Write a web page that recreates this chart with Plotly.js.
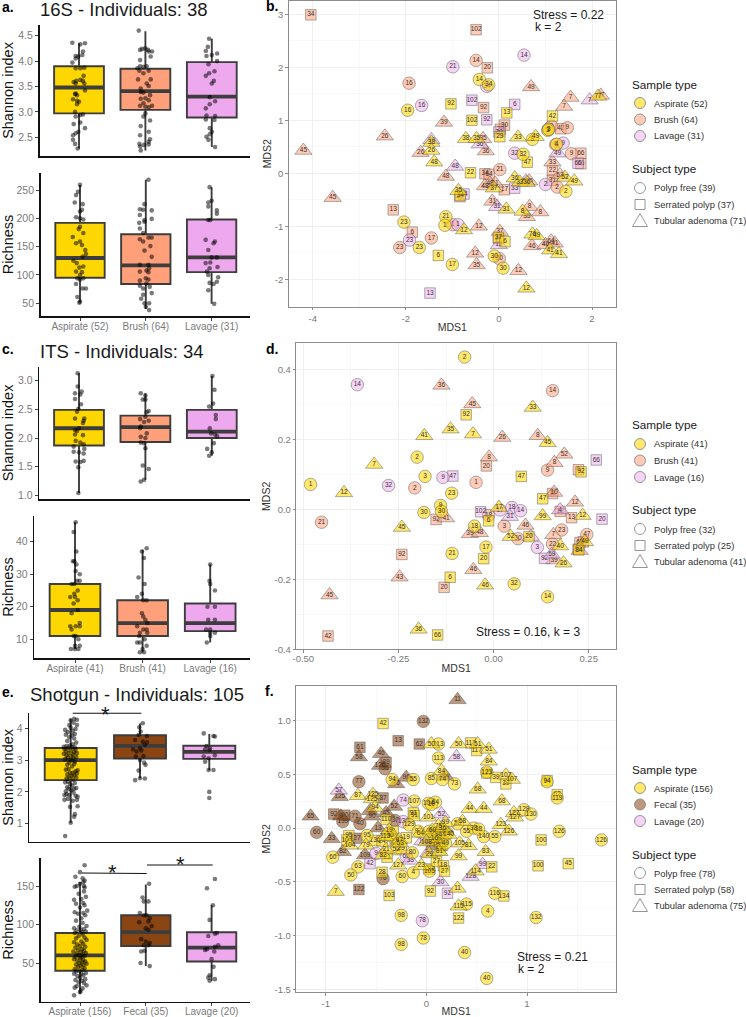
<!DOCTYPE html>
<html><head><meta charset="utf-8">
<script src="https://cdn.plot.ly/plotly-3.0.1.min.js"></script>
<style>html,body{margin:0;padding:0;background:#fff}</style></head>
<body><div id="chart"></div>
<script>
// ---------- box statistics ----------
const cats16S=["Aspirate (52)","Brush (64)","Lavage (31)"];
const catsITS=["Aspirate (41)","Brush (41)","Lavage (16)"];
const catsShot=["Aspirate (156)","Fecal (35)","Lavage (20)"];
const a1Q1=[2.97,3.04,2.89],a1Med=[3.48,3.41,3.30],a1Q3=[3.90,3.85,3.98],a1Lo=[2.28,2.24,2.31],a1Hi=[4.35,4.59,4.44];
const a2Q1=[95,84,105],a2Med=[130,117,131],a2Q3=[192,172,198],a2Lo=[52,40,49],a2Hi=[259,268,255];
const c1Q1=[1.87,1.93,2.0],c1Med=[2.17,2.19,2.11],c1Q3=[2.49,2.39,2.49],c1Lo=[1.04,1.27,1.69],c1Hi=[3.13,2.78,3.08];
const c2Q1=[11,11,12.5],c2Med=[19,15,15],c2Q3=[27,22,21],c2Lo=[7,6,9],c2Hi=[46,37.5,33];
const e1Q1=[2.37,3.05,3.04],e1Med=[3.0,3.45,3.26],e1Q3=[3.38,3.78,3.45],e1Lo=[1.03,2.43,2.68],e1Hi=[4.3,4.15,3.82];
const e2Q1=[40,72,52],e2Med=[60,90,70],e2Q3=[89,112,90],e2Lo=[10,46,27],e2Hi=[155,152,125];
// ---------- jittered sample points (x = category index + jitter) ----------
const a1X=[-.10,.02,.09,.06,.05,-.05,-.01,-.05,-.10,-.05,.02,.08,.07,-.04,-.08,.02,.06,-.05,.08,.09,-.05,-.06,-.03,-.09,-.03,0,-.03,-.06,-.05,.02,.06,-.08,.02,.09,-.01,-.05,-.09,-.09,-.06,-.02,
.90,.95,1,1.04,.92,1.05,1.10,1.08,.92,.92,.88,.97,1.02,.91,1.05,.97,.89,1.08,1.02,.93,1.05,.93,.97,1.07,.93,1,1.05,.97,.92,1,1.10,1.05,1,.97,1.07,.93,1.05,.92,1.07,1.05,.91,.98,1.05,.92,.93,
1.96,1.94,1.91,2.08,2,1.92,2.08,1.95,2.04,1.96,1.91,2.03,2,1.97,2.05,1.97,1.91,1.92,2.05,1.91,2.04,1.97,2,1.97,1.92,1.95,2.05];
const a1Y=[4.36,4.33,4.35,4.19,4.12,4.10,4.09,4.05,3.97,3.86,3.86,3.87,3.71,3.61,3.59,3.63,3.61,3.56,3.56,3.42,3.36,3.35,3.33,3.25,3.22,3.20,3.15,3.0,2.91,2.94,2.95,2.76,2.79,2.68,2.61,2.58,2.54,2.45,2.37,2.28,
4.60,4.24,4.25,4.22,4.22,4.19,4.19,4.09,4.02,3.90,3.86,3.89,3.90,3.81,3.81,3.76,3.64,3.64,3.56,3.46,3.51,3.39,3.38,3.33,3.26,3.27,3.23,3.17,3.12,3.10,3.12,3.09,2.97,2.91,2.83,2.72,2.61,2.54,2.46,2.41,2.37,2.35,2.36,2.32,2.24,
4.44,4.28,4.2,4.15,4.12,4.1,4.0,3.94,3.8,3.76,3.71,3.61,3.56,3.29,3.21,3.15,3.07,2.93,2.92,2.85,2.84,2.68,2.61,2.56,2.51,2.45,2.31];
const a2X=[0,-.03,-.06,-.08,.04,0,.03,-.06,0,.05,0,-.02,.05,-.11,0,.03,-.06,.08,.09,.04,-.10,-.05,.05,-.01,-.06,.03,0,-.04,.05,0,-.06,.04,.09,-.04,0,-.01,
1.04,.98,.91,.96,1.09,.91,.98,1.09,.90,.98,.91,.96,.91,.96,1.04,1.09,1.07,.98,1.09,.91,1.04,1.05,1.01,.91,1.04,1,1.04,.91,1.01,.91,1.06,.96,1.09,.96,.93,.98,1.05,1,1.05,
1.97,2,1.95,1.95,2.08,2.08,1.95,1.98,1.91,2.05,2.03,1.95,2,2.08,1.98,1.91,2.09,1.97,1.93,1.95,2.10,2.08,1.97,2.03,1.95,2.04];
const a2Y=[259,247,241,228,225,212,215,202,200,198,185,181,174,167,159,153,156,144,137,132,125,121,115,113,106,105,100,94,94,92,84,76,76,61,53,51,
268,225,216,215,214,206,197,199,192,194,182,174,163,159,166,166,151,143,132,118,118,112,108,106,105,94,92,90,85,81,79,76,68,65,58,50,50,44,38,
255,231,228,221,214,208,197,197,162,159,156,144,131,131,122,121,114,112,106,100,96,88,86,84,73,49];
const c1X=[-.02,-.02,.04,-.06,.02,-.06,.03,-.01,-.03,-.06,.08,.07,.06,0,-.06,-.03,-.06,.06,-.05,.02,.07,-.08,.08,-.08,0,.07,-.05,.07,.02,-.01,-.01,
.93,1,.96,1,1.05,1.02,1,.92,1.05,.98,.93,.92,1.02,.93,1,.93,.98,1,.96,1.05,.98,.93,
2.01,2.04,2.02,1.96,2.06,2.06,1.97,1.99,2.05,2.08,2.03,1.93,2,1.96];
const c1Y=[3.13,2.9,2.81,2.78,2.76,2.68,2.59,2.51,2.46,2.34,2.34,2.3,2.26,2.17,2.14,2.12,2.06,2.05,1.95,1.92,1.89,1.85,1.81,1.76,1.75,1.73,1.59,1.6,1.58,1.49,1.04,
2.78,2.74,2.67,2.67,2.47,2.45,2.37,2.33,2.3,2.28,2.2,2.17,2.08,2.02,2.0,1.92,1.91,1.82,1.52,1.46,1.27,1.24,
3.08,2.84,2.6,2.55,2.4,2.33,2.17,2.08,2.06,2.03,1.91,1.81,1.75,1.69];
const c2X=[.01,-.02,.02,-.03,-.01,.02,.01,.07,.03,.07,-.05,-.01,.04,-.07,-.01,0,.04,-.02,.04,-.05,-.07,-.05,.01,.07,.07,-.02,.01,.05,0,.07,-.06,0,.05,
1.06,.99,1.02,.94,1.03,.92,.99,1.01,1.06,.99,1.01,1.04,1.07,.92,1.01,1.06,.96,1.07,.95,1.03,.96,.92,1.06,1,.96,1.02,
2,1.99,2,2.07,1.96,2.07,1.97,2.07,1.94,2,2,2.07,2,1.95];
const c2Y=[46,43,37,34,34,33,31,30,28,28,27,27,25,23,24,23,22,21,19,18,14,13,14,15,14,11,11,10,8,8,7,7,7,
38,37,35,29,27,23,24,22,22,18,17,16,15,14,13,13,12,12,11,10,9,9,8,7,6,6,
33,28,27,25,20,20,16,16,13,13,12,12,11,9];
const e1X=[-.08,0,.06,.05,.10,-.01,.09,-.09,-.04,.03,-.09,-.06,.07,.1,-.02,.04,-.07,.01,.05,-.03,.08,-.05,.02,-.01,.06,-.08,-.04,.03,-.06,.08,-.02,.01,.05,-.05,.09,-.01,.03,.07,.1,-.07,-.03,.02,-.05,.05,-.02,.06,0,-.08,.04,-.04,.08,.01,-.06,.03,-.1,-.03,.09,.05,-.07,0,.07,-.09,-.04,.02,-.1,.06,-.06,-.01,.03,.08,-.05,.05,-.02,.02,-.07,.06,-.04,.03,-.08,.07,0,-.02,.09,.04,0,.05,.09,
1.04,.99,1.01,.98,1.1,.93,1.04,1.1,1.07,.9,1,.95,1.02,.94,1.05,1,1.06,1.08,.98,1,.93,1.07,
1.92,2.06,2.08,1.96,2.01,1.94,2,1.92,2.08,1.99,1.94,1.99,2.06,2,2];
const e1Y=[.61,1.03,1.3,1.22,1.55,1.53,1.75,1.75,1.78,1.72,1.9,1.93,1.88,1.85,1.9,1.98,2.02,2.05,2.1,2.1,2.12,2.15,2.2,2.25,2.28,2.3,2.32,2.38,2.42,2.45,2.45,2.5,2.52,2.55,2.58,2.6,2.6,2.65,2.68,2.7,2.72,2.8,2.85,2.88,2.92,2.95,3.0,3.03,3.05,3.08,3.1,3.12,3.15,3.18,3.2,3.22,3.22,3.25,3.28,3.3,3.33,3.35,3.38,3.4,3.42,3.4,3.44,3.46,3.5,3.55,3.6,3.68,3.72,3.78,3.8,3.82,3.88,3.92,3.95,3.98,4.02,4.1,4.1,4.18,4.25,4.3,4.27,
4.16,4.03,3.9,3.79,3.76,3.63,3.58,3.56,3.48,3.34,3.37,3.27,3.3,3.11,3.13,3.0,2.92,2.85,2.67,2.43,2.37,2.42,
3.84,3.76,3.74,3.44,3.37,3.34,3.32,3.11,3.15,3.06,2.95,2.69,2.69,2.0,1.81];
const e2X=[-.09,0,.01,-.08,.04,-.05,.1,.06,-.02,.03,-.07,.08,0,-.04,.05,-.09,.02,.09,-.06,-.01,.04,-.08,.07,-.03,.01,.05,-.06,.1,-.01,.03,.08,-.04,.05,-.09,0,.02,-.07,.07,-.02,.04,-.05,.09,.01,-.1,.06,-.03,.03,-.07,.08,0,-.04,.05,-.09,.02,.1,-.06,.07,-.02,.04,-.08,.03,.09,-.05,.01,.06,-.09,-.01,.1,.04,-.06,.02,.08,-.03,.05,-.08,.11,0,.07,-.06,.05,-.09,.02,.09,-.02,.06,-.05,.07,.05,-.08,0,-.07,.07,.04,.06,0,.07,
1.05,.95,.97,1.04,.91,1.01,.97,1.06,1.04,.90,1.09,1,1.04,.93,1,1.06,.97,1.04,.98,.93,.92,1.06,
2.05,1.93,2.02,1.97,2.08,2.05,1.95,2.1,2.05,1.93,1.90,2.04,2,2.03,1.97,1.95,2.05,1.97];
const e2Y=[8,12,14,18,17,20,21,24,25,27,28,29,31,33,34,36,36,37,39,40,41,42,43,45,46,47,48,49,50,51,52,53,54,55,56,57,58,59,60,61,62,63,64,65,66,67,68,70,71,72,74,75,77,78,80,82,83,85,87,89,90,91,92,93,94,95,97,98,102,105,108,112,114,115,116,118,122,125,127,128,132,133,136,140,143,150,148,155,149,153,162,157,160,150,168,177,
153,135,130,130,115,112,112,108,104,103,98,95,93,81,78,76,73,73,66,65,50,46,
159,147,125,106,89,88,85,73,71,68,67,65,55,45,34,31,29,27];
// ---------- MDS panel b (16S) ----------
const bACx=[-.42,-.22,-1.96,1.05,1.07,.72,1.24,.52,1.44,-1.14,-1.16,-2.04,-1.71,-.10,.09,-1.0],bACy=[1.77,1.67,1.19,.81,.83,.64,.55,.36,-.34,-.82,-.98,-.92,-1.40,-1.56,-1.79,-1.72],bACt=["14","34","16","3","3","8","4","32","2","21","1","23","23","30","30","17"];
const bBCx=[-.49,-1.93,1.13,1.47,1.22,1.56,.02,1.25,-.99,-1.45,-2.13,.01],bBCy=[2.13,1.70,.89,.86,.54,.37,.07,-.26,-.97,-1.22,-1.40,-1.61],bBCt=["14","16","9","9","6","9","21","2","1","17","23","30"];
const bLCx=[.54,-.99,-.26,-1.66,1.06,1.38,.34,1.0,-.88,-1.92],bLCy=[2.23,2.01,1.64,1.28,.83,.57,.38,-.21,-.97,-1.26],bLCt=["14","21","34","16","8","9","32","2","1","23"];
const bASx=[-1.03,.17,-.58,1.15,.02,.61,-.61,-.01,.13,-1.30,-.83],bASy=[1.31,1.14,1.0,1.08,.69,.21,.01,-1.21,-1.29,-1.55,-.42],bASt=["92","13","102","42","29","47","22","37","6","6","34"];
const bBSx=[-4.04,-.49,-.25,-.33,.12,.03,1.33,1.76,1.76,1.15,-.30,-.21,1.15,.12,-.84,-2.27,-1.86,-.01],bBSy=[2.99,2.71,1.99,1.24,.91,.83,.84,.38,.18,.05,-.01,-.02,-.13,-.31,-.44,-.69,-1.11,-1.23],bBSt=["34","102","20","92","30","29","42","66","66","22","34","64","31","17","22","13","6","37"];
const bLSx=[-.58,.34,-.26,0,1.70,.34,-.75,-1.48],bLSy=[1.38,1.30,1.01,.78,.19,-.28,-.39,-2.26],bLSt=["102","6","92","20","66","33","34","13"];
const bATx=[2.13,-1.45,-1.45,-1.39,-.71,-.48,.41,.79,1.42,1.62,.34,.45,-.87,-.11,.16,.51,.72,.81,1.1,1.29,-.75,.59,.6],bATy=[1.45,.58,.43,.21,.65,.65,.68,.69,-.08,-.15,-.09,-.17,-.33,-.28,-.68,-.72,-1.15,-1.18,-1.45,-1.52,-1.07,-2.17,-.18],bATt=["77","38","26","48","38","35","33","49","52","49","36","33","35","37","31","8","76","49","41","41","12","12","36"];
const bBTx=[.69,1.54,1.40,2.19,-1.18,-2.45,-1.68,-4.2,-3.57,-1.14,-.34,-.28,1.15,1.31,-.30,-.19,-.08,-.14,.66,.89,.6,-.43,.02,.71,1.0,1.12,1.2,-.51,-.48,.42,.65],bBTy=[1.63,1.43,1.26,1.47,.96,.70,.39,.43,-.46,-.06,.65,.42,.21,-.03,-.24,-.19,-.19,-.53,-.63,-.73,-.82,-1.0,-1.10,-1.37,-1.35,-1.28,-1.32,-1.51,-1.73,-1.84,-.15],bBTt=["49","7","7","77","39","26","26","45","45","48","35","36","33","52","48","48","11","31","8","8","35","12","37","46","46","64","41","12","35","12","36"];
const bLTx=[1.95,-1.45,-.41,1.26,-.94,.58,-.04,0],bLTy=[1.38,.63,.55,.38,.13,-.15,-.63,-1.35],bLTt=["7","39","36","49","48","52","31","12"];
// ---------- MDS panel d (ITS) ----------
const dACx=[-.076,-.201,-.18,-.481,-.11,-.183,-.139,-.137,-.05,-.02,-.109,.054,.142],dACy=[.435,.149,.094,.071,.046,-.009,.011,-.006,-.048,-.108,-.126,-.213,-.25],dACt=["2","2","3","1","23","30","9","30","18","17","21","32","14"];
const dBCx=[.155,-.207,-.046,.142,-.452,-.013,.028,.064,.179,.245,.155],dBCy=[.339,.061,.077,.112,-.037,-.018,-.048,-.084,-.059,-.072,-.099],dBCt=["14","2","1","9","21","18","3","30","23","47","22"];
const dLCx=[-.358,-.133,-.276,.017,.048,.071,.115],dLCy=[.356,.091,.068,-.002,.005,-.004,-.109],dLCt=["14","9","32","17","18","14","3"];
const dASx=[-.072,.073,.23,.129,-.013,.093,-.026,-.114,-.147,.224],dASy=[.27,.094,.107,.03,-.033,-.078,-.141,-.194,-.359,-.116],dASt=["92","47","92","47","6","20","20","6","66","84"];
const dBSx=[-.019,.223,.155,-.151,.175,.205,-.241,-.13,-.435,.227,.236,.222],dBSy=[.124,.113,.045,-.029,-.006,-.024,-.129,-.223,-.362,-.095,-.093,-.114],dBSt=["20","6","11","92","12","13","92","20","42","66","64","84"];
const dLSx=[-.107,.27,-.034,.285,.134],dLSy=[.095,.141,-.007,-.028,-.14],dLSt=["47","66","102","20","92"];
const dATx=[.103,-.113,-.182,-.054,.142,-.314,-.393,.234,.014,.129,-.241,.045,.175,.24,.184,-.022,-.197],dATy=[.291,.229,.21,.215,.19,.128,.047,-.018,.005,-.019,-.052,-.078,-.105,-.093,-.154,-.217,-.343],dATt=["33","35","41","7","45","7","12","12","17","99","45","52","40","49","26","46","36"];
const dBTx=[-.137,-.056,.023,.116,.186,-.012,.16,.159,.214,-.125,.084,-.062,-.036,.157,.159,.226,-.053,-.247,-.431],dBTy=[.354,.301,.205,.21,.157,.149,.133,.048,.02,-.025,-.046,-.07,-.067,-.073,-.145,-.118,-.173,-.194,-.245],dBTt=["36","45","26","8","52","8","8","10","12","41","46","39","48","7","39","84","46","43","45"];
const dLTx=[.175,.043,.098,.153],dLTy=[-.002,-.021,-.078,-.129],dLTt=["4","31","7","59"];
// ---------- MDS panel f (Shotgun) ----------
const fACx=[.12,.12,.60,1.2,1.3,-.34,-.13,.05,.16,.28,-.12,.02,.09,.05,.97,1.04,.31,1.32,1.74,.68,.57,.40,.47,.52,-.93,-.59,-.68,-.75,-.24,-.13,.03,.68,.4,.61,1.09,-.25,-.03,-.25,.38,.6,-.36,-.17,-.14,-.08,.03,.19,.21],fACy=[.78,.65,.52,.43,.28,.45,.45,.46,.45,.41,.25,.23,.24,.22,.17,.13,.04,-.03,-.11,-.08,-.08,-.03,0,-.01,-.27,-.07,-.36,-.435,-.45,-.415,-.40,-.605,-.705,-.77,-.83,-.81,-1.02,-1.08,-1.155,-1.395,-.07,.03,-.23,-.03,-.03,-.14,-.05],fACt=["113","113","123","94","119","94","55","85","74","73","107","104","64","10","129","130","58","126","126","55","140","55","38","38","60","95","63","50","60","4","105","116","115","4","132","98","78","98","40","40","80","129","80","97","40","49","138"];
const fFCx=[-.03,-.67,-.41,-.71,-.83,-.66,-1.09,-.43,-.31],fFCy=[.99,.43,.55,.11,.06,.04,-.04,-.47,.07],fFCt=["132","77","55","71","139","40","60","78","30"];
const fLCx=[-.23,-.23,-.50,-.2,-.04],fLCy=[.26,.06,-.235,-.26,-.86],fLCt=["74","139","9","65","78"];
const fASx=[-.43,.44,.5,.60,.69,.79,1.2,1.3,-.13,-.12,-.40,1.14,.65,1.11,1.41,-.77,-.79,-.44,-.37,.03,.1,.17,.18,.04,.77,.32,-.51,-.44,-.33,-.31,-.30,-.25,-.39,-.2,.08,.1,.13,.14,.16,.17,.12],fASy=[.97,.79,.72,.51,.47,.41,.44,.31,.14,.115,.08,-.11,-.36,-.35,-.33,-.07,-.11,-.41,-.625,-.38,-.31,-.35,-.40,-.585,-.63,-.835,-.115,-.12,-.03,-.12,-.20,-.19,-.27,-.09,-.04,-.11,-.13,-.2,-.16,-.03,-.06],fASt=["42","117","117","122","39","39","94","62","91","91","110","100","22","100","45","95","104","28","103","136","27","18","27","92","134","122","136","24","8","29","52","29","21","19","53","66","88","110","111","8","66"];
const fFSx=[-.28,-.07,-.66,-.40,-.43,-.92,-.81,-.69,-.67,.05],fFSy=[.81,.78,.75,.61,.28,.13,.12,-.095,-.57,-.15],fFSt=["13","62","61","89","87","92","90","27","122","96"];
const fLSx=[-.56,.21],fLSy=[-.33,-.605],fLSt=["42","92"];
const fATx=[.05,.32,.51,.62,.62,.15,.79,.85,-.68,.51,-.53,-.54,-.51,.75,.43,.57,.87,.88,.02,.19,.36,.74,.82,.33,.42,.59,.32,.49,-.76,-.60,-.90,-.28,-.05,.31,.32,-.41,-.37,-.27,-.26,-.40,-.43,-.06,0,.06,.03,.13,.22,.16,.12,.08],fATy=[.78,.78,.78,.73,.62,.53,.49,.45,.30,.36,.31,.27,.19,.25,.18,.18,.14,.10,.10,.05,.06,.03,-.03,-.14,-.165,-.22,-.26,-.40,-.16,-.16,-.59,-.345,-.35,-.56,-.725,-.08,-.02,-.11,-.14,-.2,-.25,-.05,-.13,-.02,-.24,-.22,-.06,0,.02,-.1],fATt=["50","50","51","51","84","84","107","107","87","68","125","125","94","68","44","44","127","127","101","99","58","123","126","105","81","83","99","114","104","79","7","127","23","11","115","113","19","97","53","21","82","64","108","60","29","81","140","36","75","16"];
const fFTx=[.31,-.67,-.45,-.46,-.2,.19,-.3,-.86,-.32,-.56,-.4,-.54,-1.15,-.85,-.83,-.94,-.61,-.48],fFTy=[1.19,.66,.69,.58,.47,.48,.41,.29,.2,.16,.14,.11,.11,.11,-.22,-.10,-.25,0],fFTt=["11","58","46","126","96","74","76","125","52","9","45","90","65","9","82","33","109","13"];
const fLTx=[.30,-.87,.15,.56,.44,-.16,.14,-.04,.02],fLTy=[.66,.35,.13,-.34,-.45,-.30,-.50,-.12,-.23],fLTt=["58","57","52","99","128","33","30","18","29"];
// ---------- legend & tick text ----------
const legendB=["Aspirate (52)","Brush (64)","Lavage (31)","Polyp free (39)","Serrated polyp (37)","Tubular adenoma (71)"];
const legendD=["Aspirate (41)","Brush (41)","Lavage (16)","Polyp free (32)","Serrated polyp (25)","Tubular adenoma (41)"];
const legendF=["Aspirate (156)","Fecal (35)","Lavage (20)","Polyp free (78)","Serrated polyp (58)","Tubular adenoma (75)"];

// ---------- styling & helpers ----------
const W=746,H=1017,FONT='"Liberation Sans", Arial, sans-serif';
const GOLD='#FFD700',SALMON='#FFA07A',VIOLET='#EEA9EE',BROWN='#8B4513';
const fillA='rgba(255,215,0,.58)',fillB='rgba(255,160,122,.55)',fillL='rgba(238,169,238,.5)',fillF='rgba(139,69,19,.55)';
const EDGE='#3d3d3d',TICK='#7a7a7a';
const lerp=(v1,p1,v2,p2,p)=>v1+(p-p1)*(v2-v1)/(p2-p1);
const px=x=>x/W, py=y=>1-y/H;
const layout={width:W,height:H,margin:{l:0,r:0,t:0,b:0,pad:0},paper_bgcolor:'#fff',plot_bgcolor:'#fff',
  showlegend:false,hovermode:false,boxmode:'overlay',font:{family:FONT},annotations:[],shapes:[]};
const traces=[];
let axN=0;
function addAxes(xopt,yopt,rect){
  axN++;const s=axN===1?'':axN;
  layout['xaxis'+s]=Object.assign({domain:[px(rect.l),px(rect.r)],anchor:'y'+s,zeroline:false,showgrid:false,automargin:false},xopt);
  layout['yaxis'+s]=Object.assign({domain:[py(rect.b),py(rect.t)],anchor:'x'+s,zeroline:false,showgrid:false,automargin:false},yopt);
  return ['x'+s,'y'+s];
}
function boxPanel(g,xt,yt,q1,med,q3,lo,hi,jx,jy,colors,title,standoff,bottom){
  const rect={l:g.l,r:250,t:g.t,b:g.b};
  const [xa,ya]=addAxes({
    range:[(g.l-g.c0)/g.s,(250-g.c0)/g.s],showline:true,linecolor:'#111',linewidth:1.6,
    tickmode:'array',tickvals:bottom?[0,1,2]:[],ticktext:bottom||[],ticks:bottom?'outside':'',ticklen:3,tickcolor:'#444',
    tickfont:{size:10,color:TICK},showticklabels:!!bottom,ticklabelstandoff:-3},
   {range:[lerp(g.v1,g.p1,g.v2,g.p2,g.b),lerp(g.v1,g.p1,g.v2,g.p2,g.t)],showline:true,linecolor:'#111',linewidth:1.6,
    tickmode:'array',tickvals:yt,tickformat:g.fmt,ticks:'outside',ticklen:3,tickcolor:'#444',tickfont:{size:10.5,color:TICK},
    title:{text:title,font:{size:14.5,color:'#111'},standoff:standoff}},rect);
  for(let i=0;i<3;i++){
    traces.push({type:'box',xaxis:xa,yaxis:ya,x:[i],q1:[q1[i]],median:[med[i]],q3:[q3[i]],lowerfence:[lo[i]],upperfence:[hi[i]],
      width:.75,whiskerwidth:0,fillcolor:colors[i],line:{color:EDGE,width:1.9},boxpoints:false});
    traces.push({type:'scatter',mode:'lines',xaxis:xa,yaxis:ya,x:[i-.375,i+.375],y:[med[i],med[i]],line:{color:EDGE,width:3.8}});
  }
  traces.push({type:'scatter',mode:'markers',xaxis:xa,yaxis:ya,x:jx,y:jy,cliponaxis:false,marker:{size:4.6,color:'rgba(0,0,0,.52)'}});
}
function mdsGroup(ax,x,y,t,fill,sym){
  const size=sym==='circle'?12.5:sym==='square'?10.5:15;
  traces.push({type:'scatter',mode:'markers+text',xaxis:ax[0],yaxis:ax[1],x:x,y:y,text:t,textposition:'middle center',
    textfont:{size:6.5,color:'#333'},cliponaxis:true,
    marker:{size:size,symbol:sym==='tri'?'triangle-up':sym,color:fill,line:{color:'rgba(80,80,80,.5)',width:.9}}});
}
function mdsAxes(r,xt,xl,xm,yt,yl,ym,cal,st){
  const line={showline:true,mirror:true,linecolor:'#8c8c8c',linewidth:1,showgrid:true,gridcolor:'#ececec',gridwidth:.8,
    ticks:'outside',ticklen:2.5,tickcolor:'#8c8c8c',tickfont:{size:9.5,color:TICK}};
  return addAxes(Object.assign({},line,{range:[lerp(cal.xv1,cal.xp1,cal.xv2,cal.xp2,r.l),lerp(cal.xv1,cal.xp1,cal.xv2,cal.xp2,r.r)],
     tickmode:'array',tickvals:xt,ticktext:xl,minor:{tickmode:'array',tickvals:xm,showgrid:true,gridcolor:'#f4f4f4',gridwidth:.6,ticks:''},
     ticklabelstandoff:st[2],
     title:{text:'MDS1',font:{size:10.5,color:'#333'},standoff:st[0]}}),
   Object.assign({},line,{range:[lerp(cal.yv1,cal.yp1,cal.yv2,cal.yp2,r.b),lerp(cal.yv1,cal.yp1,cal.yv2,cal.yp2,r.t)],
     tickmode:'array',tickvals:yt,ticktext:yl,minor:{tickmode:'array',tickvals:ym,showgrid:true,gridcolor:'#f4f4f4',gridwidth:.6,ticks:''},
     title:{text:'MDS2',font:{size:10.5,color:'#333'},standoff:st[1]}}),r);
}
function note(text,x,y,size,opt){
  const o=opt||{};
  layout.annotations.push(Object.assign({text:text,xref:'paper',yref:'paper',x:px(o.xanchor==='center'?x:x-2),y:py(y),xanchor:'left',yanchor:'middle',showarrow:false,
    font:{size:size,color:'#1a1a1a',family:FONT}},o));
}
function segment(x0,y0,x1,y1){layout.shapes.push({type:'line',xref:'paper',yref:'paper',x0:px(x0),y0:py(y0),x1:px(x1),y1:py(y1),line:{color:'#111',width:1.1}});}
function legendBlock(top,labels,midFill){
  const fills=[fillA,midFill,fillL],cx=640,tx=654;
  const entry={font:{size:9.4,color:'#333',family:FONT}};
  note('Sample type',632,top,11.7);
  [19,35.5,52].forEach((d,i)=>{
    layout.shapes.push({type:'circle',xref:'paper',yref:'paper',x0:px(cx-5.5),x1:px(cx+5.5),y0:py(top+d-5.5),y1:py(top+d+5.5),fillcolor:fills[i],line:{color:'#8a8a8a',width:.9}});
    note(labels[i],tx,top+d,9.4,entry);
  });
  const e=[104,120.5,136.5];
  layout.shapes.push({type:'circle',xref:'paper',yref:'paper',x0:px(cx-5.5),x1:px(cx+5.5),y0:py(top+e[0]-5.5),y1:py(top+e[0]+5.5),line:{color:'#8a8a8a',width:.9}});
  layout.shapes.push({type:'rect',xref:'paper',yref:'paper',x0:px(cx-5),x1:px(cx+5),y0:py(top+e[1]-5),y1:py(top+e[1]+5),line:{color:'#8a8a8a',width:.9}});
  const ty=top+e[2];
  layout.shapes.push({type:'path',xref:'paper',yref:'paper',path:`M ${px(cx-7.5)} ${py(ty+6)} L ${px(cx+7.5)} ${py(ty+6)} L ${px(cx)} ${py(ty-7)} Z`,line:{color:'#8a8a8a',width:.9}});
  note('Subject type',632,top+85,11.7);
  [3,4,5].forEach((k,i)=>note(labels[k],tx,top+e[i],9.4,entry));
}

// ---------- box panels ----------
const colsBrush=[GOLD,SALMON,VIOLET],colsFecal=[GOLD,BROWN,VIOLET];
boxPanel({l:39.5,t:25,b:156,c0:79,s:66.4,v1:4.5,p1:35.7,v2:2.5,p2:137.3,fmt:'.1f'},null,[2.5,3,3.5,4,4.5],a1Q1,a1Med,a1Q3,a1Lo,a1Hi,a1X,a1Y,colsBrush,'Shannon index',8,null);
boxPanel({l:40.7,t:173,b:316,c0:80,s:65.8,v1:250,p1:190,v2:50,p2:303.3,fmt:'d'},null,[50,100,150,200,250],a2Q1,a2Med,a2Q3,a2Lo,a2Hi,a2X,a2Y,colsBrush,'Richness',8,cats16S);
boxPanel({l:39.3,t:367,b:499,c0:79,s:66.4,v1:3,p1:380.7,v2:1,p2:495.3,fmt:'.1f'},null,[1,1.5,2,2.5,3],c1Q1,c1Med,c1Q3,c1Lo,c1Hi,c1X,c1Y,colsBrush,'Shannon index',8,null);
boxPanel({l:34.3,t:516,b:658,c0:75,s:67.6,v1:40,p1:541.7,v2:10,p2:639.3,fmt:'d'},null,[10,20,30,40],c2Q1,c2Med,c2Q3,c2Lo,c2Hi,c2X,c2Y,colsBrush,'Richness',8,catsITS);
boxPanel({l:29.3,t:713,b:841.7,c0:70.7,s:69.3,v1:4,p1:728.3,v2:1,p2:823.7,fmt:'d'},null,[1,2,3,4],e1Q1,e1Med,e1Q3,e1Lo,e1Hi,e1X,e1Y,colsFecal,'Shannon index',8,null);
boxPanel({l:40.7,t:858,b:1001.7,c0:80,s:65.8,v1:150,p1:886,v2:50,p2:963,fmt:'d'},null,[50,100,150],e2Q1,e2Med,e2Q3,e2Lo,e2Hi,e2X,e2Y,colsFecal,'Richness',8,catsShot);

// ---------- MDS panels ----------
const axB=mdsAxes({l:288.7,r:616,t:.7,b:306.7},[-4,-2,0,2],["-4","-2","0","2"],[-3,-1,1],[-2,-1,0,1,2,3],["-2","-1","0","1","2","3"],[-1.5,-.5,.5,1.5,2.5],{xv1:-4,xp1:312.7,xv2:2,xp2:592,yv1:3,yp1:14.3,yv2:-2,yp2:279.3},[1,1,0]);
[[bBSx,bBSy,bBSt,fillB,'square'],[bBCx,bBCy,bBCt,fillB,'circle'],[bBTx,bBTy,bBTt,fillB,'tri'],[bLSx,bLSy,bLSt,fillL,'square'],[bLCx,bLCy,bLCt,fillL,'circle'],[bLTx,bLTy,bLTt,fillL,'tri'],[bASx,bASy,bASt,fillA,'square'],[bACx,bACy,bACt,fillA,'circle'],[bATx,bATy,bATt,fillA,'tri']].forEach(g=>mdsGroup(axB,g[0],g[1],g[2],g[3],g[4]));
const axD=mdsAxes({l:296.3,r:616,t:343.3,b:649.3},[-.5,-.25,0,.25],["-0.50","-0.25","0.00","0.25"],[-.375,-.125,.125],[-.4,-.2,0,.2,.4],["-0.4","-0.2","0.0","0.2","0.4"],[-.3,-.1,.1,.3],{xv1:-.5,xp1:303.3,xv2:.25,xp2:588.7,yv1:.4,yp1:369.3,yv2:-.4,yp2:649.3},[1,1,-2]);
[[dBSx,dBSy,dBSt,fillB,'square'],[dBCx,dBCy,dBCt,fillB,'circle'],[dBTx,dBTy,dBTt,fillB,'tri'],[dLSx,dLSy,dLSt,fillL,'square'],[dLCx,dLCy,dLCt,fillL,'circle'],[dLTx,dLTy,dLTt,fillL,'tri'],[dASx,dASy,dASt,fillA,'square'],[dACx,dACy,dACt,fillA,'circle'],[dATx,dATy,dATt,fillA,'tri']].forEach(g=>mdsGroup(axD,g[0],g[1],g[2],g[3],g[4]));
const axF=mdsAxes({l:296.3,r:616,t:685.7,b:992},[-1,0,1],["-1","0","1"],[-.5,.5,1.5],[-1.5,-1,-.5,0,.5,1],["-1.5","-1.0","-0.5","0.0","0.5","1.0"],[-1.25,-.75,-.25,.25,.75],{xv1:-1,xp1:325.7,xv2:1,xp2:527,yv1:1,yp1:720.3,yv2:-1.5,yp2:989.7},[3,1,0]);
[[fFSx,fFSy,fFSt,fillF,'square'],[fFCx,fFCy,fFCt,fillF,'circle'],[fFTx,fFTy,fFTt,fillF,'tri'],[fLSx,fLSy,fLSt,fillL,'square'],[fLCx,fLCy,fLCt,fillL,'circle'],[fLTx,fLTy,fLTt,fillL,'tri'],[fASx,fASy,fASt,fillA,'square'],[fACx,fACy,fACt,fillA,'circle'],[fATx,fATy,fATt,fillA,'tri']].forEach(g=>mdsGroup(axF,g[0],g[1],g[2],g[3],g[4]));

// ---------- text ----------
const bold={font:{size:14,color:'#000',family:FONT}};
note('<b>a.</b>',2,7,14,bold);note('<b>b.</b>',266,6,14,bold);note('<b>c.</b>',2,349,14,bold);note('<b>d.</b>',266,349,14,bold);note('<b>e.</b>',2,692,14,bold);note('<b>f.</b>',265,691,14,bold);
note('16S - Individuals: 38',40,9,18.5);note('ITS - Individuals: 34',40,351,18.5);note('Shotgun - Individuals: 105',30,694,18.5);
note('Stress = 0.22',533,15,12);note('k = 2',535,27,12);
note('Stress = 0.16, k = 3',476,632,12);
note('Stress = 0.21',517,957,12);note('k = 2',518,969,12);
legendBlock(84,legendB,fillB);legendBlock(425,legendD,fillB);legendBlock(769,legendF,fillF);
segment(72.7,713.3,141.3,713.3);note('*',105,714,22,{xanchor:'center'});
segment(82,873,146.7,873.5);note('*',113,872,22,{xanchor:'center'});
segment(147,865,212.7,865);note('*',180.7,864,22,{xanchor:'center'});

Plotly.newPlot('chart',traces,layout,{staticPlot:true,displayModeBar:false});
</script></body></html>
